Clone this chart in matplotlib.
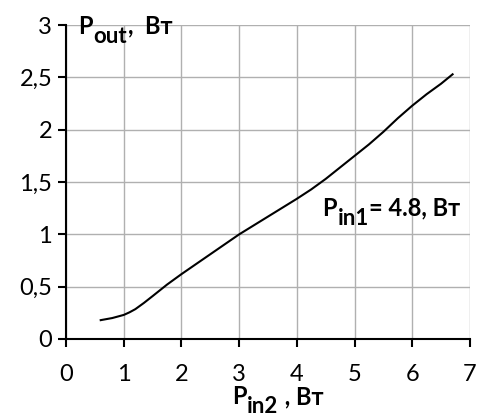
import matplotlib
matplotlib.use("Agg")
import matplotlib.pyplot as plt
from matplotlib.ticker import FuncFormatter
from matplotlib.patches import Rectangle

plt.rcParams['font.family'] = ['Lato', 'DejaVu Sans']

pin2 = [0.6, 0.7, 0.8, 0.9, 1.0, 1.1, 1.2, 1.35, 1.5, 1.75, 2.0, 2.5, 3.0, 3.5, 4.0,
        4.25, 4.5, 4.75, 5.0, 5.25, 5.5, 5.75, 6.0, 6.25, 6.5, 6.7]
pout = [0.18, 0.19, 0.20, 0.215, 0.23, 0.255, 0.285, 0.345, 0.41, 0.52, 0.62, 0.81, 1.0,
        1.17, 1.34, 1.43, 1.53, 1.64, 1.75, 1.86, 1.98, 2.11, 2.23, 2.34, 2.44, 2.53]
xticks = [0, 1, 2, 3, 4, 5, 6, 7]
yticks = [0, 0.5, 1, 1.5, 2, 2.5, 3]

fig = plt.figure(figsize=(4.79, 4.19), dpi=100)
ax = fig.add_axes([0.138, 0.191, 0.843, 0.749])
ax.plot(pin2, pout, color='black', lw=1.5, zorder=3)
ax.set_xlim(0, 7)
ax.set_ylim(0, 3)
ax.set_xticks(xticks)
ax.set_yticks(yticks)
fmt = FuncFormatter(lambda v, p: ('%g' % v).replace('.', ','))
ax.xaxis.set_major_formatter(fmt)
ax.yaxis.set_major_formatter(fmt)
ax.grid(True, color='#b0b0b0', lw=1.0, zorder=0)
ax.spines['top'].set_visible(False)
ax.spines['right'].set_visible(False)
for s in ['left', 'bottom']:
    ax.spines[s].set_linewidth(1.5)
ax.tick_params(direction='out', length=6, width=1.5, labelsize=17)
ax.tick_params(axis='x', pad=12)
ax.tick_params(axis='y', pad=4)

# white backgrounds behind labels (blank the gridlines)
ax.add_patch(Rectangle((0.03, 2.72), 1.95, 0.4, facecolor='white', edgecolor='none',
                       zorder=1, clip_on=False))
ax.add_patch(Rectangle((4.4, 1.06), 2.57, 0.34, facecolor='white', edgecolor='none',
                       zorder=1, clip_on=False))


def sub_w(t):
    fig.canvas.draw()
    bb = t.get_window_extent()
    return bb.width * 72 / fig.dpi + 0.5


def sublabel(x, y, main, sub, rest, size, subsize, coords, fig_level=False):
    kw = dict(fontweight='bold', zorder=5)
    if fig_level:
        t1 = fig.text(x, y, main, va='baseline', ha='left', fontsize=size, **kw)
    else:
        t1 = ax.text(x, y, main, va='baseline', ha='left', transform=coords,
                     fontsize=size, **kw)
    t2 = ax.annotate(sub, xy=(1.0, 0.0), xycoords=t1, xytext=(0.5, -6.5),
                     textcoords='offset points', va='bottom', ha='left',
                     annotation_clip=False, fontsize=subsize, **kw)
    ax.annotate(rest, xy=(1.0, 0.0), xycoords=t1, xytext=(sub_w(t2) + 0.5, 0),
                textcoords='offset points', va='bottom', ha='left',
                annotation_clip=False, fontsize=size, **kw)


sublabel(0.21, 2.92, 'P', 'out', ',  Вт', 17, 16, ax.transData)
sublabel(4.44, 1.18, 'P', 'in1', '= 4.8, Вт', 17, 16, ax.transData)
sublabel(0.484, 0.035, 'P', 'in2', ' , Вт', 17, 16, None, fig_level=True)

fig.savefig('out.png', dpi=100)
